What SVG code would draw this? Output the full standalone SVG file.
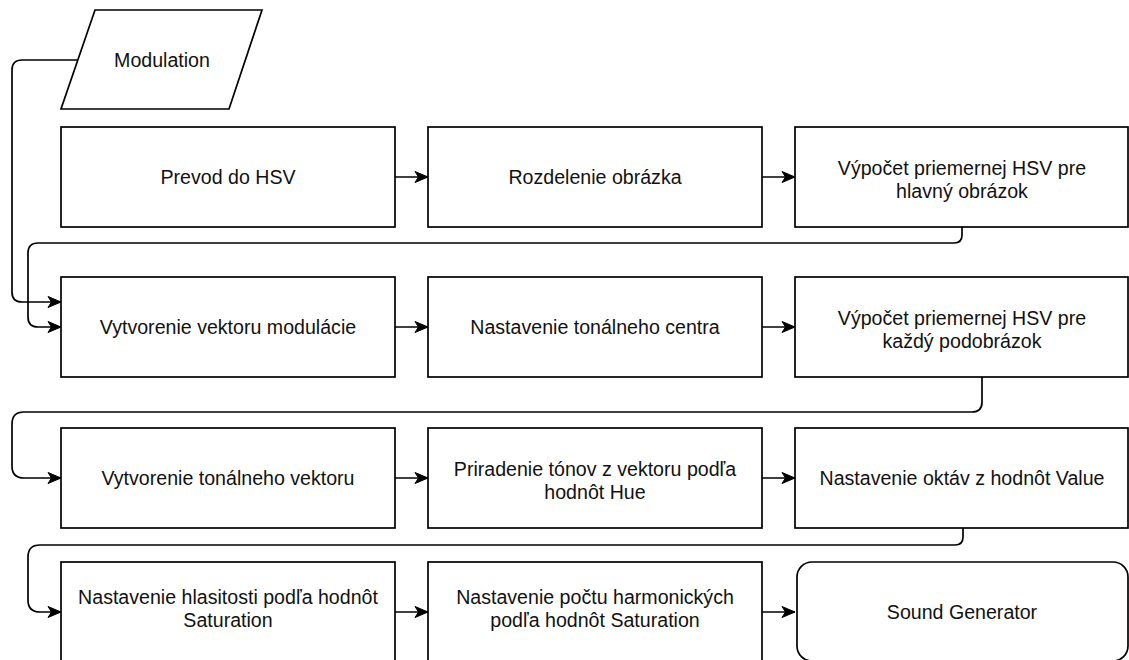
<svg xmlns="http://www.w3.org/2000/svg" width="1129" height="660" viewBox="0 0 1129 660">
  <defs>
    <style>
      .box { fill: #ffffff; stroke: #000000; stroke-width: 1.7; }
      .edge { fill: none; stroke: #000000; stroke-width: 1.7; }
      text { font-family: "Liberation Sans", Arial, Helvetica, sans-serif; font-size: 19.6px; fill: #111111; text-anchor: middle; }
    </style>
    <marker id="arrow" markerUnits="userSpaceOnUse" markerWidth="15" markerHeight="13" viewBox="0 0 15 13" refX="14" refY="6.5" orient="auto">
      <path d="M1,1 L14,6.5 L1,12 L4.5,6.5 Z" fill="#000000" stroke="#000000" stroke-width="1" stroke-linejoin="miter"/>
    </marker>
  </defs>

  <rect width="1129" height="660" fill="#ffffff"/>

  <!-- connectors -->
  <g id="connectors">
    <!-- input into the modulation vector step -->
    <path class="edge" marker-end="url(#arrow)" d="M78,60 H22 Q12,60 12,70 V292 Q12,302 22,302 H61"/>
    <!-- row 1 -->
    <path class="edge" marker-end="url(#arrow)" d="M395,177 H428"/>
    <path class="edge" marker-end="url(#arrow)" d="M762,177 H795"/>
    <!-- wrap row 1 to row 2 -->
    <path class="edge" marker-end="url(#arrow)" d="M962,227 V235 Q962,243 954,243 H38 Q28,243 28,253 V317 Q28,327 38,327 H61"/>
    <!-- row 2 -->
    <path class="edge" marker-end="url(#arrow)" d="M395,327 H428"/>
    <path class="edge" marker-end="url(#arrow)" d="M762,327 H795"/>
    <!-- wrap row 2 to row 3 -->
    <path class="edge" marker-end="url(#arrow)" d="M982,377 V402 Q982,412 972,412 H24 Q12,412 12,424 V466 Q12,478 24,478 H61"/>
    <!-- row 3 -->
    <path class="edge" marker-end="url(#arrow)" d="M395,478 H428"/>
    <path class="edge" marker-end="url(#arrow)" d="M762,478 H795"/>
    <!-- wrap row 3 to row 4 -->
    <path class="edge" marker-end="url(#arrow)" d="M963,528 V537 Q963,545 955,545 H40 Q28,545 28,557 V600 Q28,612 40,612 H61"/>
    <!-- row 4 -->
    <path class="edge" marker-end="url(#arrow)" d="M395,612 H428"/>
    <path class="edge" marker-end="url(#arrow)" d="M762,612 H795"/>
  </g>

  <!-- input -->
  <g id="modulation">
    <polygon class="box" points="95,10 262,10 229,109 61,109"/>
    <text x="162" y="67">Modulation</text>
  </g>

  <!-- row 1 -->
  <g id="prevod-hsv">
    <rect class="box" x="61" y="127" width="334" height="100"/>
    <text x="228" y="184">Prevod do HSV</text>
  </g>
  <g id="rozdelenie">
    <rect class="box" x="428" y="127" width="334" height="100"/>
    <text x="595" y="184">Rozdelenie obrázka</text>
  </g>
  <g id="priemer-hlavny">
    <rect class="box" x="795" y="127" width="333" height="100"/>
    <text x="962" y="175">Výpočet priemernej HSV pre</text>
    <text x="962" y="198">hlavný obrázok</text>
  </g>

  <!-- row 2 -->
  <g id="vektor-modulacie">
    <rect class="box" x="61" y="277" width="334" height="100"/>
    <text x="228" y="334">Vytvorenie vektoru modulácie</text>
  </g>
  <g id="tonalne-centrum">
    <rect class="box" x="428" y="277" width="334" height="100"/>
    <text x="595" y="334">Nastavenie tonálneho centra</text>
  </g>
  <g id="priemer-podobrazky">
    <rect class="box" x="795" y="277" width="333" height="100"/>
    <text x="962" y="325">Výpočet priemernej HSV pre</text>
    <text x="962" y="348">každý podobrázok</text>
  </g>

  <!-- row 3 -->
  <g id="tonalny-vektor">
    <rect class="box" x="61" y="428" width="334" height="100"/>
    <text x="228" y="485">Vytvorenie tonálneho vektoru</text>
  </g>
  <g id="priradenie-tonov">
    <rect class="box" x="428" y="428" width="334" height="100"/>
    <text x="595" y="476">Priradenie tónov z vektoru podľa</text>
    <text x="595" y="499">hodnôt Hue</text>
  </g>
  <g id="oktavy">
    <rect class="box" x="795" y="428" width="333" height="100"/>
    <text x="962" y="485">Nastavenie oktáv z hodnôt Value</text>
  </g>

  <!-- row 4 -->
  <g id="hlasitost">
    <rect class="box" x="61" y="562" width="334" height="100"/>
    <text x="228" y="604">Nastavenie hlasitosti podľa hodnôt</text>
    <text x="228" y="627">Saturation</text>
  </g>
  <g id="harmonicke">
    <rect class="box" x="428" y="562" width="334" height="100"/>
    <text x="595" y="604">Nastavenie počtu harmonických</text>
    <text x="595" y="627">podľa hodnôt Saturation</text>
  </g>
  <g id="sound-generator">
    <rect class="box" x="797" y="562" width="331" height="99" rx="15" ry="15"/>
    <text x="962" y="619">Sound Generator</text>
  </g>
</svg>
